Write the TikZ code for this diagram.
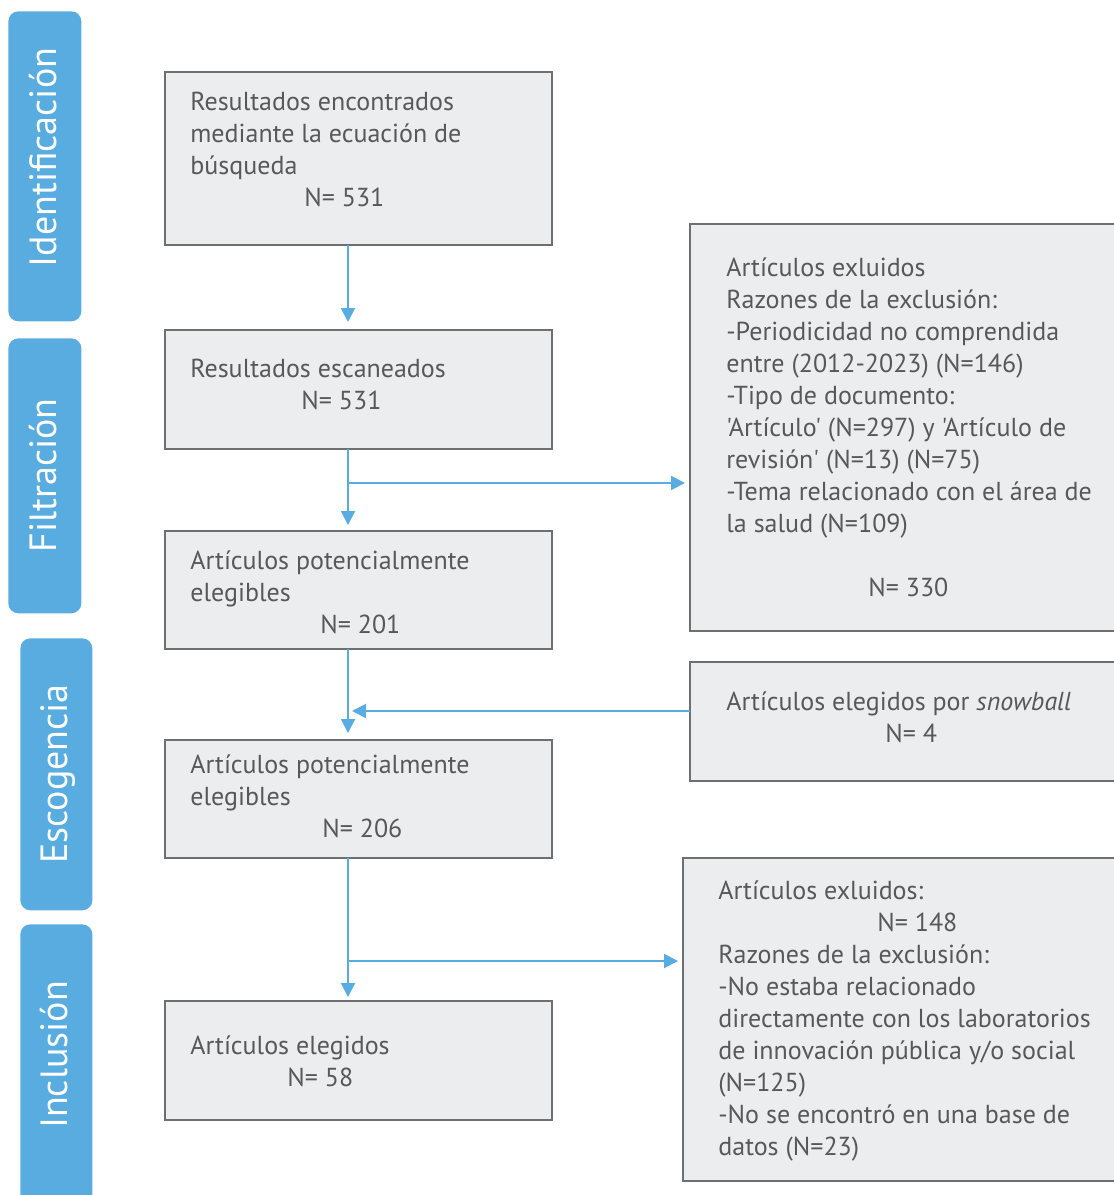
\documentclass[tikz,border=0pt]{standalone}
\usepackage{fontspec}
\setmainfont{PT Sans}[Ligatures=TeXOff]
\usepackage{tikz}
\usetikzlibrary{arrows.meta,calc}
\definecolor{barblue}{RGB}{88,172,224}
\definecolor{boxfill}{RGB}{236,237,239}
\definecolor{boxline}{RGB}{110,111,114}
\definecolor{txtgray}{RGB}{87,88,90}
\tikzset{
  box/.style={draw=boxline,fill=boxfill,line width=1.1pt,anchor=north west,inner sep=0pt,outer sep=0pt},
  bar/.style={fill=barblue,rounded corners=0.2cm,anchor=north west,inner sep=0pt},
  bartxt/.style={white,rotate=90,anchor=base,inner sep=0pt,font=\fontsize{21.6}{26}\selectfont},
  txt/.style={txtgray,anchor=north west,align=left,inner sep=0pt,font=\fontsize{14.8}{18.2}\selectfont,execute at begin node=\strut},
  arr/.style={barblue,line width=1.1pt,-{Triangle[length=0.28cm,width=0.28cm]}}
}
\begin{document}
\begin{tikzpicture}[x=0.02cm,y=-0.02cm]
    \useasboundingbox (0,0) rectangle (1113,1195);

    % side bars
    \node[bar,minimum width=1.46cm,minimum height=6.2cm] (s1) at (8,11) {};
    \node[bar,minimum width=1.46cm,minimum height=5.5cm] (s2) at (8,338) {};
    \node[bar,minimum width=1.44cm,minimum height=5.44cm] (s3) at (20,638) {};
    \node[bar,minimum width=1.44cm,minimum height=5.9cm] (s4) at (20,924) {};
    \node[bartxt] (l1) at (56,157.5) {Identificación};
    \node[bartxt] (l2) at (56,475.5) {Filtración};
    \node[bartxt] (l3) at (67,774) {Escogencia};
    \node[bartxt] (l4) at (67,1055) {Inclusión};

    % left column
    \node[box,minimum width=7.74cm,minimum height=3.46cm] (b1) at (165,72) {};
    \node[box,minimum width=7.74cm,minimum height=2.38cm] (b2) at (165,330) {};
    \node[box,minimum width=7.74cm,minimum height=2.36cm] (b3) at (165,531) {};
    \node[box,minimum width=7.74cm,minimum height=2.36cm] (b4) at (165,740) {};
    \node[box,minimum width=7.74cm,minimum height=2.38cm] (b5) at (165,1001) {};
    \node[txt] (t1) at (190,92) {Resultados encontrados\\mediante la ecuación de\\búsqueda\\\hspace*{2.28cm}N= 531};
    \node[txt] (t2) at (190,359) {Resultados escaneados\\\hspace*{2.22cm}N= 531};
    \node[txt] (t3) at (190,550.5) {Artículos potencialmente\\elegibles\\\hspace*{2.6cm}N= 201};
    \node[txt] (t4) at (190,754.5) {Artículos potencialmente\\elegibles\\\hspace*{2.64cm}N= 206};
    \node[txt] (t5) at (190,1035.5) {Artículos elegidos\\\hspace*{1.94cm}N= 58};

    % right column
    \node[box,minimum width=8.5cm,minimum height=8.14cm] (ex1) at (690,224) {};
    \node[box,minimum width=8.5cm,minimum height=2.38cm] (sn) at (690,662) {};
    \node[box,minimum width=8.64cm,minimum height=6.46cm] (ex2) at (683,858) {};
    \node[txt] (t6) at (726,257.5) {Artículos exluidos\\Razones de la exclusión:\\-Periodicidad no comprendida\\entre (2012-2023) (N=146)\\-Tipo de documento:\\'Artículo' (N=297) y 'Artículo de\\revisión' (N=13) (N=75)\\-Tema relacionado con el área de\\la salud (N=109)\\[18.2pt]\hspace*{2.84cm}N= 330};
    \node[txt] (t7) at (726,691.5) {Artículos elegidos por \textit{snowball}\\\hspace*{3.18cm}N= 4};
    \node[txt] (t8) at (718,880.5) {Artículos exluidos:\\\hspace*{3.18cm}N= 148\\Razones de la exclusión:\\-No estaba relacionado\\directamente con los laboratorios\\de innovación pública y/o social\\(N=125)\\-No se encontró en una base de\\datos (N=23)};

    % arrows
    \coordinate (spine) at (348,0);
    \coordinate (fork1) at (348,483);
    \coordinate (join) at (348,711);
    \coordinate (fork2) at (348,961);
    \draw[arr,shorten >=0.16cm] (b1.south -| spine) -- (b2.north -| spine);
    \draw[arr,shorten >=0.12cm] (b2.south -| spine) -- (b3.north -| spine);
    \draw[arr,shorten >=0.1cm] (fork1) -- (fork1 -| ex1.west);
    \draw[arr,shorten >=0.14cm] (b3.south -| spine) -- (b4.north -| spine);
    \draw[arr,shorten >=0.08cm] (join -| sn.west) -- (join);
    \draw[arr,shorten >=0.08cm] (b4.south -| spine) -- (b5.north -| spine);
    \draw[arr,shorten >=0.1cm] (fork2) -- (fork2 -| ex2.west);
\end{tikzpicture}
\end{document}
